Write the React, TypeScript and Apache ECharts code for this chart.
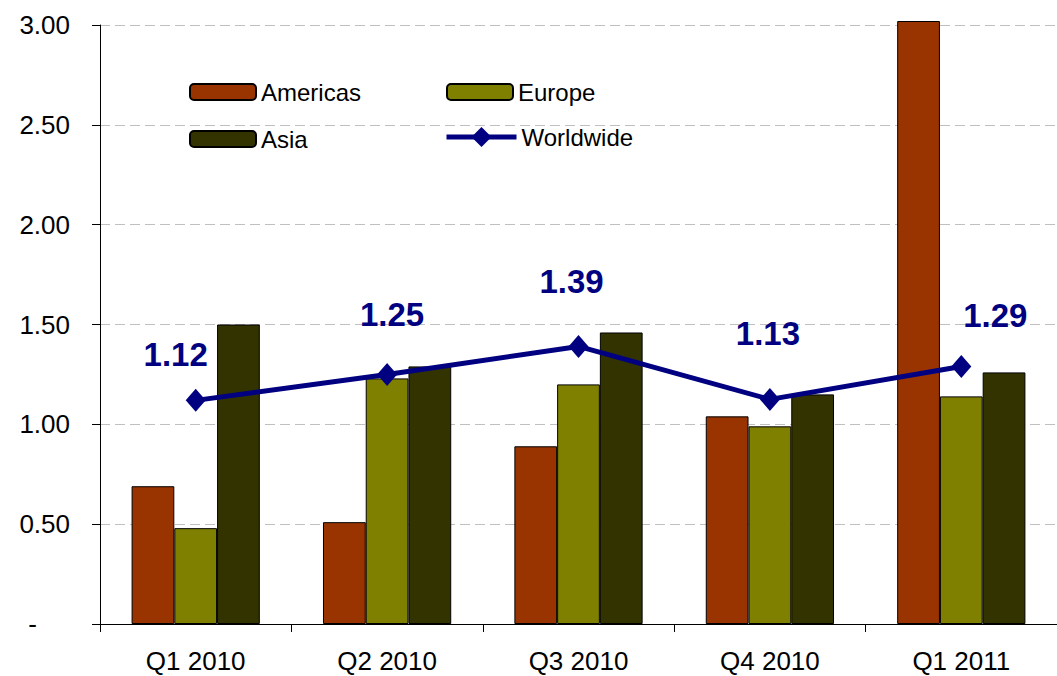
import React, { useEffect, useRef } from "react";
import * as echarts from "echarts";

const categories = ["Q1 2010", "Q2 2010", "Q3 2010", "Q4 2010", "Q1 2011"];
const americas = [0.69, 0.51, 0.89, 1.04, 3.02];
const europe = [0.48, 1.23, 1.2, 0.99, 1.14];
const asia = [1.5, 1.29, 1.46, 1.15, 1.26];
const worldwide = [1.12, 1.25, 1.39, 1.125, 1.29];
const yTicks = [0, 0.5, 1, 1.5, 2, 2.5, 3];

// label placement (pixels) relative to each worldwide point
const labelOffsets = [
  [-20, -46],
  [5, -60],
  [-7, -65],
  [-2, -66],
  [34, -51],
];

const FONT = "Liberation Sans";

export default function App() {
  const ref = useRef<HTMLDivElement>(null);
  useEffect(() => {
    if (!ref.current) return;
    const chart = echarts.init(ref.current, undefined, { renderer: "svg" });
    const barStyle = (color: string) => ({
      color,
      borderColor: "#000",
      borderWidth: 1,
    });
    const legendBase = {
      orient: "horizontal" as const,
      padding: 0,
      itemWidth: 66,
      itemHeight: 16,
      selectedMode: false,
      textStyle: { fontFamily: FONT, fontSize: 24, color: "#000" },
    };
    chart.setOption({
      animation: false,
      backgroundColor: "#fff",
      grid: { left: 100, top: 25, width: 970, height: 599, containLabel: false },
      legend: [
        { ...legendBase, data: ["Americas"], left: 189, top: 80 },
        { ...legendBase, data: ["Europe"], left: 446, top: 80 },
        { ...legendBase, data: ["Asia"], left: 189, top: 127 },
        {
          ...legendBase,
          data: ["Worldwide"],
          left: 444,
          top: 125,
          itemWidth: 70,
          itemHeight: 25,
          lineStyle: { width: 5, color: "#000080" },
        },
      ],
      xAxis: {
        type: "category",
        data: categories,
        boundaryGap: true,
        axisLine: { lineStyle: { color: "#000", width: 1 } },
        axisTick: { show: true, length: 8, inside: false, lineStyle: { color: "#000" } },
        axisLabel: { fontFamily: FONT, fontSize: 26, color: "#000", margin: 24 },
        splitLine: { show: false },
      },
      yAxis: {
        type: "value",
        min: 0,
        max: 3,
        interval: 0.5,
        axisLine: { show: true, lineStyle: { color: "#000", width: 1 } },
        axisTick: { show: true, length: 8, inside: false, lineStyle: { color: "#000" } },
        axisLabel: {
          fontFamily: FONT,
          fontSize: 26,
          color: "#000",
          margin: 30,
          formatter: (v: number) =>
            yTicks.indexOf(v) === 0 ? "{z|-}" : v.toFixed(2),
          rich: {
            z: { fontFamily: FONT, fontSize: 26, color: "#000", padding: [0, 33, 0, 0] },
          },
        },
        splitLine: {
          show: true,
          lineStyle: { color: "#c0c0c0", type: [10, 5], width: 1 },
        },
      },
      series: [
        {
          name: "Americas",
          type: "bar",
          data: americas,
          clip: false,
          barGap: "0%",
          barCategoryGap: "33%",
          itemStyle: barStyle("#993300"),
        },
        {
          name: "Europe",
          type: "bar",
          data: europe,
          clip: false,
          barGap: "0%",
          barCategoryGap: "33%",
          itemStyle: barStyle("#808000"),
        },
        {
          name: "Asia",
          type: "bar",
          data: asia,
          clip: false,
          barGap: "0%",
          barCategoryGap: "33%",
          itemStyle: barStyle("#333300"),
        },
        {
          name: "Worldwide",
          type: "line",
          z: 10,
          data: worldwide.map((v, i) => ({
            value: v,
            label: { offset: labelOffsets[i] },
          })),
          symbol: "diamond",
          symbolSize: [20, 23],
          lineStyle: { color: "#000080", width: 5 },
          itemStyle: { color: "#000080" },
          label: {
            show: true,
            position: "inside",
            color: "#000080",
            fontFamily: FONT,
            fontWeight: "bold",
            fontSize: 33,
            formatter: (p: any) => Number(p.value).toFixed(2),
          },
        },
      ],
    });
    return () => chart.dispose();
  }, []);
  return (
    <div
      ref={ref}
      style={{ position: "fixed", left: 0, top: 0, width: 1057, height: 676, background: "#fff" }}
    />
  );
}
